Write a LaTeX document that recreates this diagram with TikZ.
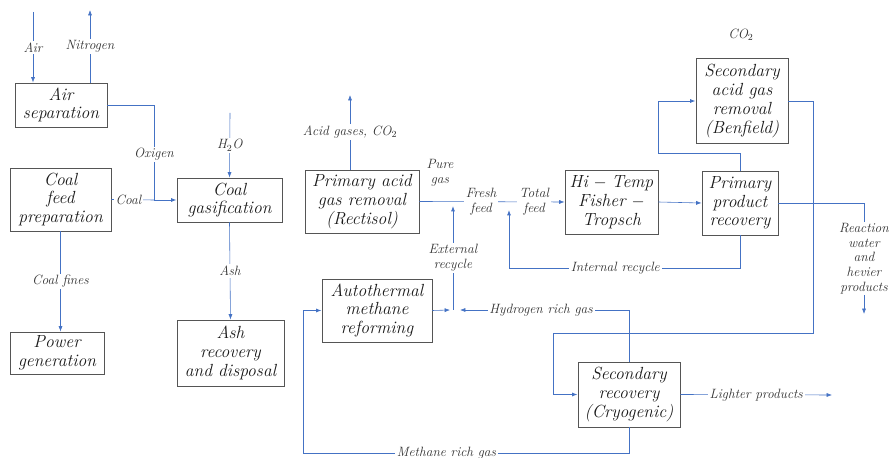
\documentclass[tikz,border=0pt]{standalone}
\usepackage{tikz}
\usetikzlibrary{arrows.meta}
\definecolor{flowblue}{RGB}{68,114,196}
\definecolor{boxgray}{RGB}{85,85,85}
\definecolor{txtgray}{RGB}{50,50,50}

\begin{document}
\begin{tikzpicture}[x=0.03cm, y=-0.03cm,
  unit/.style={rectangle, draw=boxgray, line width=0.8pt, align=center, inner sep=1pt, text=black!90, font=\fontsize{15}{16}\selectfont\itshape},
  lbl/.style={fill=white, inner sep=1.5pt, align=center, text=txtgray, font=\fontsize{11.5}{12.5}\selectfont\itshape},
  flow/.style={draw=flowblue, line width=0.5pt, -{Latex[length=1.6mm, width=1.2mm]}},
  loop/.style={flow, line width=0.8pt}]
\useasboundingbox (0,0) rectangle (893,458);
\node (airsep) at (61,105) [unit, minimum width=2.76cm, minimum height=1.32cm] {Air\\separation};
\node (coalprep) at (60.5,199.5) [unit, minimum width=3.03cm, minimum height=1.89cm] {Coal\\feed\\preparation};
\node (power) at (57,353) [unit, minimum width=2.82cm, minimum height=1.26cm] {Power\\generation};
\node (gasif) at (229.5,200) [unit, minimum width=3.15cm, minimum height=1.32cm] {Coal\\gasification};
\node (ashrec) at (230.5,353) [unit, minimum width=3.21cm, minimum height=1.98cm] {Ash\\recovery\\and disposal};
\node (rectisol) at (362,201.5) [unit, minimum width=3.42cm, minimum height=1.89cm] {Primary acid\\gas removal\\(Rectisol)};
\node (atr) at (377,310.5) [unit, minimum width=3.3cm, minimum height=1.89cm] {Autothermal\\methane\\reforming};
\node (htft) at (611.5,202) [unit, minimum width=2.79cm, minimum height=1.92cm] {Hi\/\;$-$\;Temp\\Fisher\/\;$-$\\Tropsch};
\node (ppr) at (740,203) [unit, minimum width=2.28cm, minimum height=1.92cm] {Primary\\product\\recovery};
\node (benfield) at (742,101) [unit, minimum width=2.76cm, minimum height=2.55cm] {Secondary\\acid gas\\removal\\(Benfield)};
\node (cryo) at (629,394.5) [unit, minimum width=3.06cm, minimum height=1.95cm] {Secondary\\recovery\\(Cryogenic)};
\node (co2) at (741,35) [lbl] {CO$_2$};
\node (puregas) at (440,173) [lbl] {Pure\\gas};
% free ends
\coordinate (airin) at (33,12);
\coordinate (nitro) at (90,10);
\coordinate (oxj) at (154,200);
\coordinate (h2oin) at (230,113);
\coordinate (acid) at (350,95);
\coordinate (xr) at (450,310);
\coordinate (xbot) at (453,310);
\coordinate (xtop) at (453,206);
\coordinate (irc) at (509,268);
\coordinate (irtop) at (509,210);
\coordinate (bfl) at (658,153);
\coordinate (b1) at (813,333);
\coordinate (b2) at (553,333);
\coordinate (r1) at (864,203);
\coordinate (r2) at (864,314);
\coordinate (h2end) at (460,310);
\coordinate (m1) at (303,453);
\coordinate (lp) at (832,395);
% connections
\draw [flow] (airin) -- node [lbl] {Air} (airsep.north -| airin);
\draw [flow] (airsep.north -| nitro) -- node [lbl] {Nitrogen} (nitro);
\draw [flow, -] (coalprep.east) -- node [lbl, pos=0.4] {Coal} (oxj);
\draw [loop] (airsep.east) -| node [lbl, pos=0.76] {Oxigen} (oxj) -- (gasif.west);
\draw [flow] (h2oin) -- node [lbl] {H$_2$O} (gasif.north);
\draw [flow] (coalprep.south) -- node [lbl] {Coal fines} (coalprep.south |- power.north);
\draw [flow] (gasif.south) -- node [lbl] {Ash} (ashrec.north);
\draw [flow] (rectisol.north -| acid) -- node [lbl] {Acid gases, CO$_2$} (acid);
\draw [flow] (atr.east) -- (xr);
\draw [loop] (xbot) -- node [lbl] {External\\recycle} (xtop);
\draw [loop] (ppr.south) |- node [lbl, pos=0.77] {Internal recycle} (irc) -- (irtop);
\draw [flow] (rectisol.east) -- node [lbl, pos=0.425] {Fresh\\feed} node [lbl, pos=0.79] {Total\\feed} (htft.west);
\draw [flow] (htft.east) -- (ppr.west);
\draw [loop] (ppr.north) -- (ppr.north |- bfl) -- (bfl) |- (benfield.west);
\draw [loop] (benfield.east) -| (b1) -- (b2) |- (cryo.west);
\draw [flow] (ppr.east) -- (r1) -- node [lbl] {Reaction\\water\\and\\hevier\\products} (r2);
\draw [flow] (cryo.north) |- node [lbl, pos=0.76] {Hydrogen rich gas} (h2end);
\draw [loop] (cryo.south) |- node [lbl, pos=0.78] {Methane rich gas} (m1) |- (atr.west);
\draw [flow] (cryo.east) -- node [lbl] {Lighter products} (lp);
\end{tikzpicture}
\end{document}
